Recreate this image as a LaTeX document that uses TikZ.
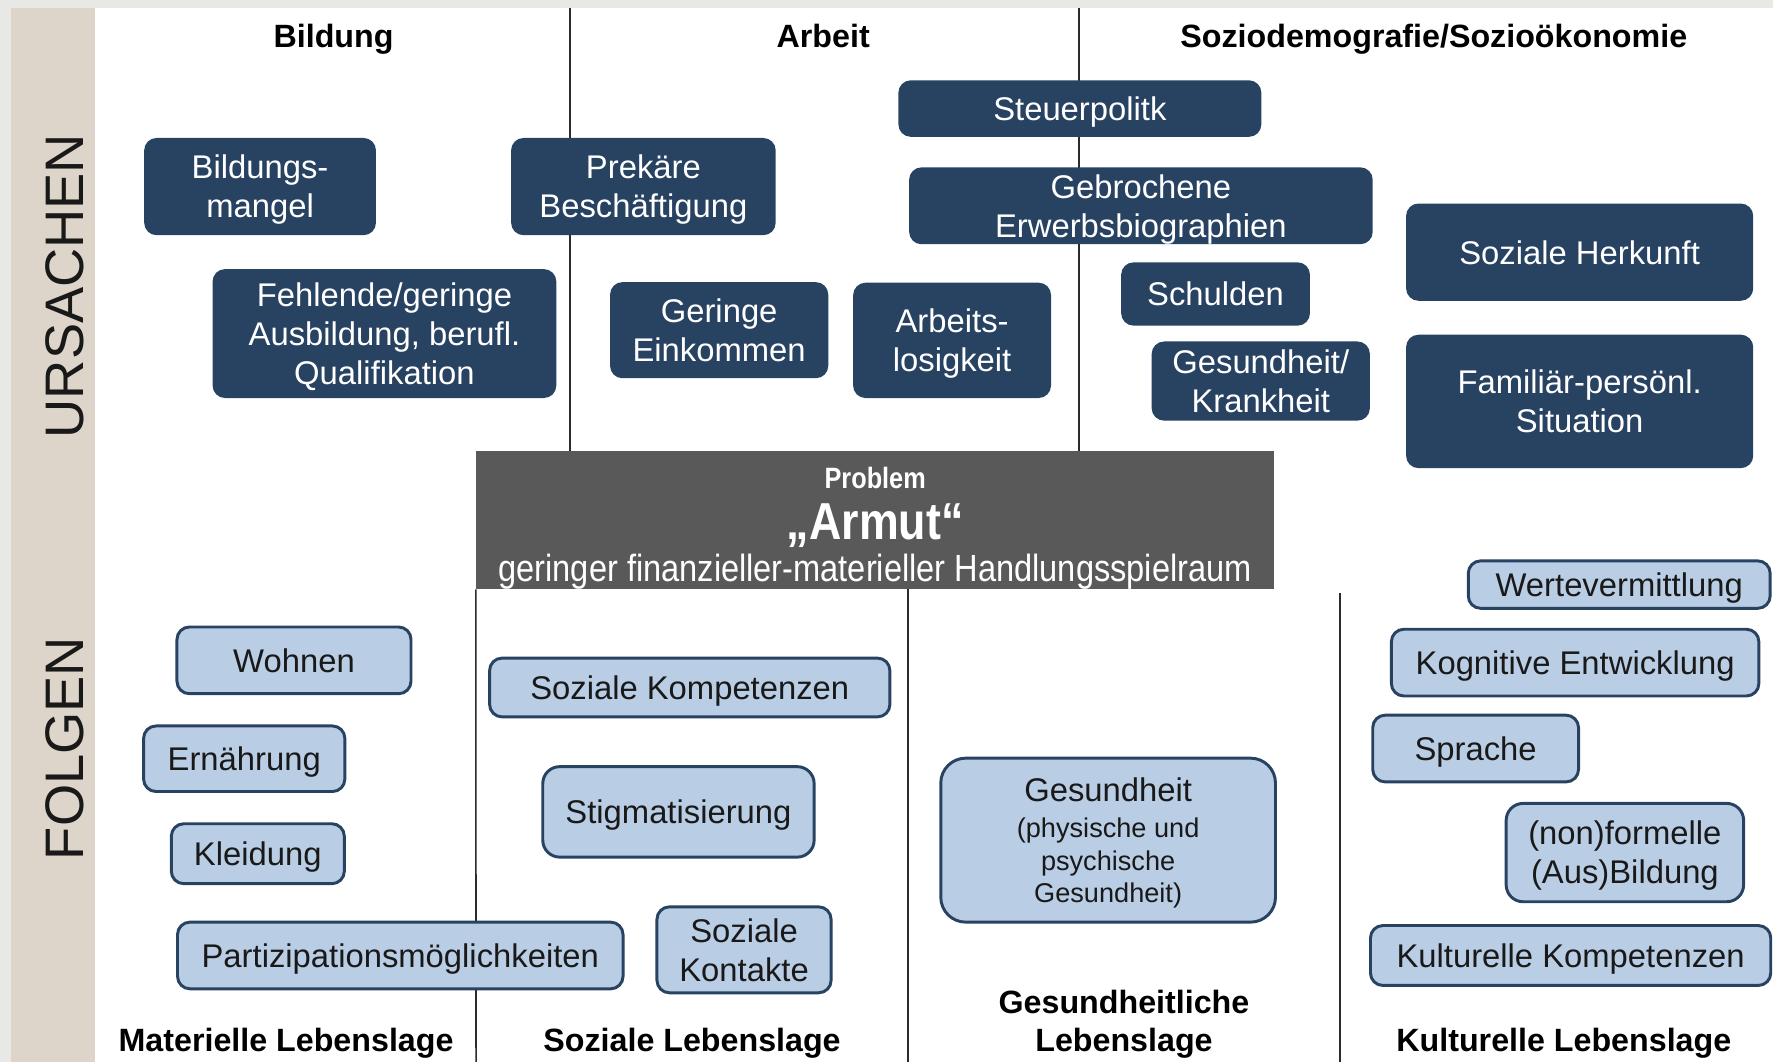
\documentclass[tikz,border=0pt]{standalone}
\usepackage{fontspec}
\setmainfont{Liberation Sans}
\newfontfamily\narrowfont{Liberation Sans}[FakeStretch=0.86]
\definecolor{navy}{HTML}{284262}
\definecolor{paleblue}{HTML}{B9CDE4}
\definecolor{sand}{HTML}{DDD5C9}
\definecolor{framegray}{HTML}{E8E8E4}
\definecolor{armutgray}{HTML}{595959}
\definecolor{rulegray}{HTML}{2B2B2B}
\newcommand{\boxfont}{\fontsize{29}{34.5}\selectfont}
\newcommand{\subfont}{\fontsize{24}{29}\selectfont}
\tikzset{
  cause/.style={fill=navy, text=white, rounded corners=11pt, align=center,
    inner sep=0pt, text depth=0pt, font=\boxfont},
  effect/.style={draw=navy, line width=2.6pt, fill=paleblue, text=black!90,
    rounded corners=11pt, align=center, inner sep=0pt, text depth=0pt, font=\boxfont},
  head/.style={font=\bfseries\fontsize{28.5}{34}\selectfont, align=center,
    text depth=0pt, text=black},
  side/.style={rotate=90, font=\fontsize{48}{48}\selectfont, text=black!90},
  divider/.style={draw=rulegray, line width=1.4pt}
}
\begin{document}
\begin{tikzpicture}[x=1pt, y=-1pt]
  \useasboundingbox (0,0) rectangle (1568,939);
  \fill[framegray] (0,0) rectangle (1568,939);
  \fill[white] (10,7) rectangle (1568,939);
  \fill[sand] (10,7) rectangle (84,939);

  \node[side] (ursachen) at (57,253) {URSACHEN};
  \node[side] (folgen) at (57,662) {FOLGEN};

  \node[head] (bildung) at (295,32) {Bildung};
  \node[head] (arbeit) at (728,32) {Arbeit};
  \node[head] (sozio) at (1268,32) {Soziodemografie/Sozioökonomie};

  \node[fill=armutgray, minimum width=706, minimum height=122, inner sep=0pt] (armut) at (774,460) {};
  \node[text=white, text depth=0pt, font=\narrowfont\bfseries\fontsize{26}{26}\selectfont] (problem) at (774,423) {Problem};
  \node[text=white, text depth=0pt, font=\narrowfont\bfseries\fontsize{46}{46}\selectfont] (armuttitel) at (774,461) {„Armut“};
  \node[text=white, text depth=0pt, font=\narrowfont\fontsize{33.5}{34}\selectfont] (spielraum) at (774,502) {geringer finanzieller-materieller Handlungsspielraum};

  \draw[divider] (504,7) -- (504,399);
  \draw[divider] (954,7) -- (954,399);
  \draw[divider] (armut.south west) -- (421,939);
  \draw[divider] (803,521) -- (803,939);
  \draw[divider] (1185,524) -- (1185,939);

  \node[cause, minimum width=321, minimum height=50] (steuer) at (955,96) {Steuerpolitk};
  \node[cause, minimum width=205, minimum height=86] (mangel) at (230,165) {Bildungs-\\mangel};
  \node[cause, minimum width=234, minimum height=86] (prekaer) at (569,165) {Prekäre\\Beschäftigung};
  \node[cause, minimum width=410, minimum height=68] (erwerb) at (1009,182) {Gebrochene\\Erwerbsbiographien};
  \node[cause, minimum width=307, minimum height=86] (herkunft) at (1397,223) {Soziale Herkunft};
  \node[cause, minimum width=304, minimum height=114] (ausbildung) at (340,295) {Fehlende/geringe\\Ausbildung, berufl.\\Qualifikation};
  \node[cause, minimum width=193, minimum height=85] (einkommen) at (636,292) {Geringe\\Einkommen};
  \node[cause, minimum width=175, minimum height=102] (arbeitslos) at (842,301) {Arbeits-\\losigkeit};
  \node[cause, minimum width=167, minimum height=56] (schulden) at (1075,260) {Schulden};
  \node[cause, minimum width=193, minimum height=70] (krankheit) at (1115,337) {Gesundheit/\\Krankheit};
  \node[cause, minimum width=307, minimum height=118] (familie) at (1397,355) {Familiär-persönl.\\Situation};

  \node[effect, minimum width=207, minimum height=59] (wohnen) at (260,584) {Wohnen};
  \node[effect, minimum width=178, minimum height=58] (ernaehrung) at (216,671) {Ernährung};
  \node[effect, minimum width=153, minimum height=53] (kleidung) at (228,755) {Kleidung};
  \node[effect, minimum width=394, minimum height=59] (partizipation) at (354,845) {Partizipationsmöglichkeiten};
  \node[effect, minimum width=354, minimum height=52] (sozkomp) at (610,608) {Soziale Kompetenzen};
  \node[effect, minimum width=240, minimum height=80, rounded corners=15pt] (stigma) at (600,718) {Stigmatisierung};
  \node[effect, minimum width=154, minimum height=76] (kontakte) at (658,840) {Soziale\\Kontakte};
  \node[effect, minimum width=296, minimum height=145, rounded corners=22pt,
    font=\fontsize{29}{29}\selectfont] (gesundheit) at (980,743)
    {Gesundheit\\[3pt]\subfont (physische und\\\subfont psychische\\\subfont Gesundheit)};
  \node[effect, minimum width=267, minimum height=42] (werte) at (1432,517) {Wertevermittlung};
  \node[effect, minimum width=325, minimum height=59] (kognitiv) at (1393,586) {Kognitive Entwicklung};
  \node[effect, minimum width=182, minimum height=59] (sprache) at (1305,662) {Sprache};
  \node[effect, minimum width=210, minimum height=87, rounded corners=15pt] (formell) at (1437,754) {(non)formelle\\(Aus)Bildung};
  \node[effect, minimum width=354, minimum height=53] (kultkomp) at (1389,845) {Kulturelle Kompetenzen};

  \node[head] (materiell) at (253,920) {Materielle Lebenslage};
  \node[head] (sozial) at (612,920) {Soziale Lebenslage};
  \node[head] (gesundlage) at (994,903) {Gesundheitliche\\Lebenslage};
  \node[head] (kulturell) at (1383,920) {Kulturelle Lebenslage};
\end{tikzpicture}
\end{document}
